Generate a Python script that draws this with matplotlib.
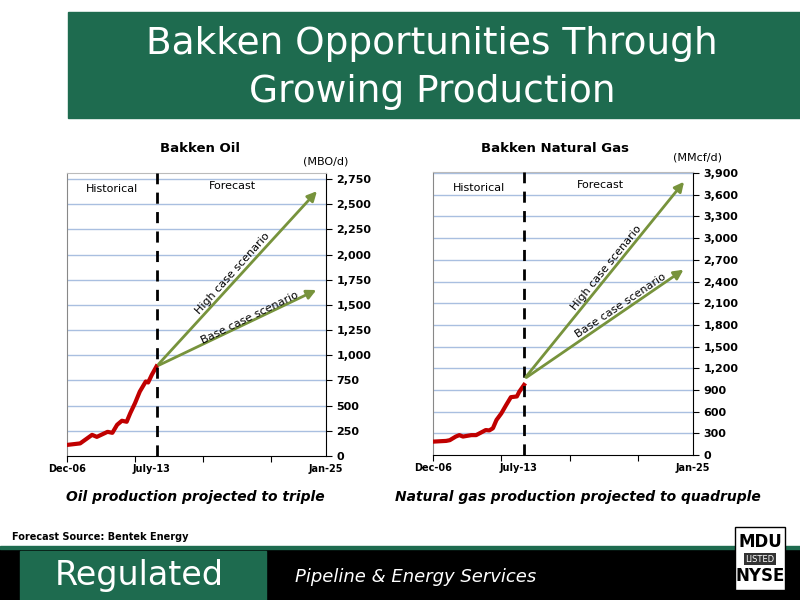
import matplotlib
matplotlib.use("Agg")
import matplotlib.pyplot as plt
from matplotlib.patches import Rectangle

# months since Dec-06
oil_x = [0, 11, 21, 25, 34, 38, 42, 46, 50, 53, 57, 61, 66, 68, 71, 75]
oil_y = [110, 125, 210, 190, 240, 230, 310, 350, 340, 425, 525, 640, 740, 730, 805, 890]
oil_split = 75
oil_high = 2650
oil_base = 1660
oil_end = 211
oil_ticks = [0, 250, 500, 750, 1000, 1250, 1500, 1750, 2000, 2250, 2500, 2750]

gas_x = [0, 11, 14, 19, 22, 25, 32, 36, 40, 44, 47, 50, 53, 57, 61, 65, 70, 72, 76]
gas_y = [185, 195, 205, 255, 275, 255, 275, 275, 310, 345, 340, 370, 485, 575, 690, 800, 810, 875, 970]
gas_split = 76
gas_high = 3810
gas_base = 2585
gas_start = 1050
gas_end = 211
gas_ticks = list(range(0, 3901, 300))

x_ticks = [0, 57, 114, 171]
x_labels = [(0, "Dec-06"), (71, "July-13"), (217, "Jan-25")]

GREEN = "#1e6b4f"
ARROW = "#77933c"
RED = "#c00000"
GRID = "#a9bfe0"

fig = plt.figure(figsize=(8, 6), dpi=100)
fig.patch.set_facecolor("white")

# banner
fig.patches.append(Rectangle((68/800, 1-118/600), 732/800, 106/600, transform=fig.transFigure, color=GREEN, zorder=0))
fig.text(432/800, 1-44/600, "Bakken Opportunities Through", color="white", fontsize=27, ha="center", va="center")
fig.text(432/800, 1-92/600, "Growing Production", color="white", fontsize=27, ha="center", va="center")

# footer
fig.patches.append(Rectangle((0, 0), 1, 52/600, transform=fig.transFigure, color="black", zorder=0))
fig.patches.append(Rectangle((0, 51/600), 1, 3/600, transform=fig.transFigure, color=GREEN, zorder=0))
fig.patches.append(Rectangle((20/800, 0), 246/800, 49/600, transform=fig.transFigure, color=GREEN, zorder=1))
fig.text(55/800, 25/600, "Regulated", color="white", fontsize=24, va="center")
fig.text(295/800, 23/600, "Pipeline & Energy Services", color="white", fontsize=13, style="italic", va="center")
fig.patches.append(Rectangle((735/800, 10/600), 50/800, 63/600, transform=fig.transFigure, facecolor="white", edgecolor="black", lw=1, zorder=2))
fig.text(760/800, 58/600, "MDU", fontsize=12, weight="bold", ha="center", va="center", zorder=3)
fig.text(760/800, 41/600, "LISTED", fontsize=6, color="white", ha="center", va="center", zorder=3,
         bbox=dict(facecolor="#333333", edgecolor="none", pad=1))
fig.text(760/800, 24/600, "NYSE", fontsize=12, weight="bold", ha="center", va="center", zorder=3)
fig.text(12/800, 1-537/600, "Forecast Source: Bentek Energy", fontsize=7, weight="bold", va="center")


def panel(rect, xs, ys, split, start, high, base, end, ticks, ylim, title, unit, tpos, upos, sub, subpos, angs, lpos):
    ax = fig.add_axes(rect)
    ax.set_xlim(0, 217)
    ax.set_ylim(0, ylim)
    for t in ticks[1:]:
        ax.axhline(t, color=GRID, lw=1, zorder=1)
    ax.plot(xs, ys, color=RED, lw=3, zorder=3)
    ax.axvline(split, color="black", lw=2, ls=(0, (4, 3)), zorder=4)
    for v in (high, base):
        ax.annotate("", xy=(end, v), xytext=(split, start),
                    arrowprops=dict(arrowstyle="-|>", color=ARROW, lw=2, mutation_scale=14), zorder=5)
    ax.yaxis.tick_right()
    ax.set_yticks(ticks)
    ax.set_yticklabels([f"{t:,}" for t in ticks], fontsize=8, weight="bold")
    ax.set_xticks(x_ticks)
    ax.set_xticklabels([])
    ax.tick_params(axis="x", length=4, direction="out")
    ax.tick_params(axis="y", length=4, direction="out")
    for xv, lab in x_labels:
        ax.text(xv, -ylim*0.045, lab, fontsize=7, weight="bold", ha="center", va="center")
    ax.spines["top"].set_color("#bbbbbb")
    ax.spines["left"].set_color("#888888")
    ax.text(split/2, ylim*0.945, "Historical", fontsize=8, ha="center", va="center")
    ax.text(split+(217-split)*0.45, ylim*0.955, "Forecast", fontsize=8, ha="center", va="center")
    fig.text(tpos[0]/800, 1-tpos[1]/600, title, fontsize=9.5, weight="bold", ha="center", va="center")
    fig.text(upos[0]/800, 1-upos[1]/600, unit, fontsize=8, ha="center", va="center")
    fig.text(subpos[0]/800, 1-subpos[1]/600, sub, fontsize=10, weight="bold", style="italic", ha="center", va="center")
    fig.text(lpos[0][0]/800, 1-lpos[0][1]/600, "High case scenario", fontsize=8, rotation=angs[0], ha="center", va="center")
    fig.text(lpos[1][0]/800, 1-lpos[1][1]/600, "Base case scenario", fontsize=8, rotation=angs[1], ha="center", va="center")
    return ax


panel([67/800, 1-456/600, 259/800, 283/600], oil_x, oil_y, oil_split, oil_y[-1], oil_high, oil_base, oil_end,
      oil_ticks, 2810, "Bakken Oil", "(MBO/d)", (200, 148), (326, 162),
      "Oil production projected to triple", (195, 497), (48, 26), ((233, 273), (250, 318)))
panel([433/800, 1-455/600, 260/800, 283/600], gas_x, gas_y, gas_split, gas_start, gas_high, gas_base, gas_end,
      gas_ticks, 3915, "Bakken Natural Gas", "(MMcf/d)", (555, 148), (697, 158),
      "Natural gas production projected to quadruple", (578, 497), (51, 34), ((606, 268), (621, 306)))

fig.savefig("out.png", dpi=100)
